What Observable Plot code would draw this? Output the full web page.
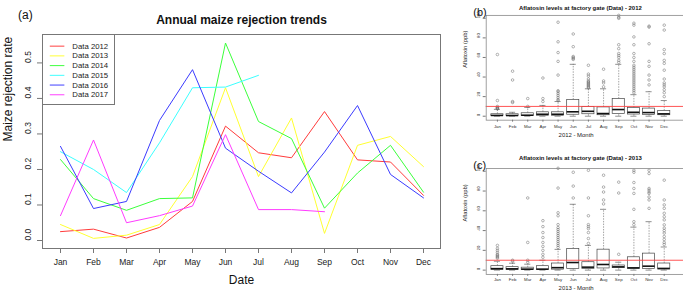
<!DOCTYPE html>
<html><head><meta charset="utf-8">
<script src="https://cdn.jsdelivr.net/npm/d3@7"></script>
<script src="https://cdn.jsdelivr.net/npm/@observablehq/plot@0.6"></script>
<style>
body{margin:0;background:#fff;font-family:"Liberation Sans",Arial,sans-serif;}
#wrap{position:relative;width:683px;height:296px;overflow:hidden;background:#fff;}
.abs{position:absolute;}
#legend{position:absolute;left:42px;top:34px;width:73px;height:71px;border:1px solid #777;box-sizing:border-box;background:#fff;}
#legend svg{position:absolute;left:-1px;top:-1px;}
</style></head><body><div id="wrap"><div id="pa" class="abs" style="left:0;top:0"></div><div id="legend"></div><div id="pb" class="abs" style="left:450px;top:0"></div><div id="pc" class="abs" style="left:450px;top:145px"></div></div>
<script>
// ---------- Panel (a) data ----------
const months = ["Jan","Feb","Mar","Apr","May","Jun","Jul","Aug","Sep","Oct","Nov","Dec"];
const years = ["2012","2013","2014","2015","2016","2017"];
const lineColors = ["#ff3b3b","#ffff30","#3bff3b","#3bffff","#3b3bff","#ff3bff"];
const rate2012 = [0.025,0.032,0.007,0.037,0.110,0.322,0.247,0.233,0.363,0.227,0.221,0.127];
const rate2013 = [0.045,0.006,0.015,0.045,0.180,0.430,0.180,0.345,0.020,0.268,0.293,0.208];
const rate2014 = [0.228,0.118,0.085,0.118,0.120,0.556,0.335,0.287,0.091,0.190,0.268,0.136];
const rate2015 = [0.250,0.200,0.135,0.275,0.430,0.432,0.465,null,null,null,null,null];
const rate2016 = [0.265,0.090,0.110,0.338,0.481,0.260,0.195,0.134,0.249,0.380,0.186,0.120];
const rate2017 = [0.070,0.283,0.050,0.070,0.097,0.298,0.087,0.087,0.081,null,null,null];
const yTicksA = [0, 0.1, 0.2, 0.3, 0.4, 0.5];

// ---------- Panel (b) data: 2012 aflatoxin (ppb) ----------
const lo2012  = [0,0,0,0,0,0,0,0,0,0,0,0];
const q1_2012 = [0.2,0.2,0.3,0.5,0.5,1.5,2,1,2.4,1.7,1.4,1];
const med2012 = [0.8,0.7,1,2,2,4.5,5,2.7,6.8,4,3.7,2.4];
const q3_2012 = [2,2,3,4,4,16.5,9.5,9,17.6,8.4,7.8,5.4];
const hi2012  = [7,4,9,11,15,53,28,28,53,22,25,16];
const out2012 = [
  [7.5,8,8.5,9,10,16,63],
  [14,15,37,46],
  [10,18],
  [15,18,39],
  [16,17,19,21,23,25,26,42,56,65,76,96],
  [58,59,60,61,71,84],
  [29,30,31,32,33,34,35,36,38,41,43,52],
  [30,34,36,48],
  [55,57,60,62,64,69,73,100,101,103],
  [24,26,28,30,32,34,36,38,40,42,44,46,48,50,52,56,60,64,73,81,93,95],
  [32,37,42,51,56,74,91,92],
  [20,24,27,30,32,34,38,47,54,57,64,68,88,93]
];

// ---------- Panel (c) data: 2013 aflatoxin (ppb) ----------
const lo2013  = [0,0,0,0,0,0,0,0,0,0,0,0];
const q1_2013 = [0.3,0.2,0.2,0.2,0.5,1,1,1.7,2,1.3,1.3,0.7];
const med2013 = [1.5,1.3,1,1,2.5,7.7,3,5.7,3.3,2.3,4,1.7];
const q3_2013 = [4,3,2.5,4,6.7,21.4,8,20.7,4.7,13,16.7,6.7];
const hi2013  = [9,7,6,10,21,66.6,25,61.5,8,43.5,49,23.4];
const out2013 = [
  [12,13,14,15,16,18,20,22,25],
  [9,10],
  [8,10,28,73],
  [13,16,20,24,28,33,38,44,50],
  [23,25,27,29,31,33,35,37,39,41,43,46,55,58,83,103],
  [73,85,99],
  [27,32,38,42,44,46,55,73,101],
  [67,71,79,84,96],
  [16,78,89],
  [46,49,61.5,77.6,82.6,88.6,99,101],
  [62.5,71,74,77.6,79,81,82.6,97.7,101],
  [26,28,31,34,37.5,40,42.5,45.8,50.8,54,57.5,62.5,66,71,91]
];
const yTicksBox = [0,20,40,60,80,100];
const limitPpb = 10;

const FONT = "Liberation Sans, Arial, sans-serif";

// ---------- Panel (a) ----------
const seriesA = [rate2012, rate2013, rate2014, rate2015, rate2016, rate2017];
const rowsA = seriesA.flatMap((arr, s) => arr.map((v, i) => ({year: years[s], month: months[i], value: v})).filter(d => d.value != null));

const plotA = Plot.plot({
  width: 450, height: 296,
  marginLeft: 42, marginRight: 10, marginTop: 34, marginBottom: 48,
  x: {type: "point", domain: months, padding: 0.445},
  y: {domain: [-0.0225, 0.58]},
  color: {domain: years, range: lineColors},
  style: {fontFamily: FONT, background: "transparent", color: "#222"},
  marks: [
    Plot.frame({stroke: "#777"}),
    Plot.axisX({tickSize: 5, tickPadding: 5, fontSize: 8.5, label: null, stroke: "#777"}),
    Plot.axisY(yTicksA, {tickSize: 5, tickFormat: () => "", label: null, stroke: "#777"}),
    Plot.text(yTicksA, {y: d => d, text: d => d.toFixed(1), frameAnchor: "left", dx: -14, rotate: -90, fontSize: 8.5, fill: "#222"}),
    Plot.line(rowsA, {x: "month", y: "value", z: "year", stroke: "year", strokeWidth: 1}),
    Plot.text(["Annual maize rejection trends"], {frameAnchor: "top", dy: -19, fontWeight: "bold", fontSize: 12, fill: "#111"}),
    Plot.text(["(a)"], {frameAnchor: "top-left", dx: -24.5, dy: -24, fontSize: 12, fill: "#111"}),
    Plot.text(["Date"], {frameAnchor: "bottom", dy: 35, fontSize: 12, fill: "#111"}),
    Plot.text(["Maize rejection rate"], {frameAnchor: "left", dx: -34, rotate: -90, fontSize: 12, fill: "#111"})
  ]
});
document.getElementById("pa").appendChild(plotA);

// ---------- Legend for (a) ----------
const legend = Plot.plot({
  width: 73, height: 71,
  marginLeft: 8, marginRight: 50, marginTop: 11, marginBottom: 8.7,
  x: {axis: null},
  y: {type: "point", domain: years, axis: null, padding: 0},
  color: {domain: years, range: lineColors},
  style: {fontFamily: FONT, background: "transparent"},
  marks: [
    Plot.ruleY(years, {y: d => d, stroke: d => d, strokeWidth: 1}),
    Plot.text(years, {y: d => d, text: d => "Data " + d, frameAnchor: "right", dx: 7.7, textAnchor: "start", fontSize: 8, fill: "#222"})
  ]
});
document.getElementById("legend").appendChild(legend);

// ---------- Box panels ----------
function boxPanel(o) {
  const rows = months.map((m, i) => ({i: i + 1, lo: o.lo[i], q1: o.q1[i], med: o.med[i], q3: o.q3[i], hi: o.hi[i]}));
  const outs = o.out.flatMap((arr, i) => arr.map(v => ({i: i + 1, v})));
  const w = 0.4, cap = 0.2;
  return Plot.plot({
    width: 235, height: o.height,
    marginLeft: 36, marginRight: 0, marginTop: o.marginTop, marginBottom: o.marginBottom,
    x: {domain: [0.26, 13.27]},
    y: {domain: o.yDomain},
    style: {fontFamily: FONT, background: "transparent", color: "#222"},
    marks: [
      Plot.ruleX(rows, {x: "i", y1: "q3", y2: "hi", stroke: "#666", strokeWidth: 0.6, strokeDasharray: "1.5,1.2"}),
      Plot.ruleX(rows, {x: "i", y1: "lo", y2: "q1", stroke: "#666", strokeWidth: 0.6, strokeDasharray: "1.5,1.2"}),
      Plot.ruleY(rows, {y: "hi", x1: d => d.i - cap, x2: d => d.i + cap, stroke: "#444", strokeWidth: 0.6}),
      Plot.ruleY(rows, {y: "lo", x1: d => d.i - cap, x2: d => d.i + cap, stroke: "#444", strokeWidth: 0.6}),
      Plot.rect(rows, {x1: d => d.i - w, x2: d => d.i + w, y1: "q1", y2: "q3", fill: "white", stroke: "#444", strokeWidth: 0.7}),
      Plot.ruleY(rows, {y: "med", x1: d => d.i - w, x2: d => d.i + w, stroke: "#111", strokeWidth: 1.6}),
      Plot.dot(outs, {x: "i", y: "v", r: 1.3, stroke: "#666", strokeWidth: 0.5, fill: "none"}),
      Plot.ruleY([limitPpb], {stroke: "#ff4040", strokeWidth: 0.9}),
      Plot.frame({stroke: "#888", strokeWidth: 0.8}),
      Plot.axisX(months.map((m, i) => i + 1), {tickSize: 2, tickFormat: () => "", label: null, stroke: "#777"}),
      Plot.text(months.map((m, i) => i + 1), {x: d => d, text: d => months[d - 1], frameAnchor: "bottom", dy: o.monthDy, fontSize: 4.4, fill: "#333"}),
      Plot.axisY(yTicksBox, {tickSize: 3, tickFormat: () => "", label: null, stroke: "#777"}),
      Plot.text(yTicksBox, {y: d => d, text: d => String(d), frameAnchor: "left", dx: -8, rotate: -90, fontSize: 4.2, fill: "#333"}),
      Plot.text([o.title], {frameAnchor: "top", dx: -4.5, dy: o.titleDy, fontWeight: "bold", fontSize: 6, fill: "#111"}),
      Plot.text([o.tag], {frameAnchor: "top-left", dx: -13, dy: o.tagDy, fontSize: 11, fill: "#111"}),
      Plot.text([o.xlabel], {frameAnchor: "bottom", dx: -8.8, dy: o.xlabDy, fontSize: 6, fill: "#222"}),
      Plot.text(["Aflatoxin (ppb)"], {frameAnchor: "left", dx: -21, rotate: -90, fontSize: 5.8, fill: "#222"})
    ]
  });
}

document.getElementById("pb").appendChild(boxPanel({
  lo: lo2012, q1: q1_2012, med: med2012, q3: q3_2012, hi: hi2012, out: out2012,
  title: "Aflatosin levels at factory gate (Data) - 2012", xlabel: "2012 - Month", tag: "(b)",
  height: 145, marginTop: 15, marginBottom: 24.3, yDomain: [-4.05, 103.0],
  titleDy: -10, tagDy: -7, monthDy: 8.3, xlabDy: 17
}));
document.getElementById("pc").appendChild(boxPanel({
  lo: lo2013, q1: q1_2013, med: med2013, q3: q3_2013, hi: hi2013, out: out2013,
  title: "Aflatoxin levels at factory gate (Data) - 2013", xlabel: "2013 - Month", tag: "(c)",
  height: 151, marginTop: 23.3, marginBottom: 21, yDomain: [-4.3, 102.7],
  titleDy: -12.8, tagDy: -7.5, monthDy: 6.7, xlabDy: 16
}));
</script></body></html>
